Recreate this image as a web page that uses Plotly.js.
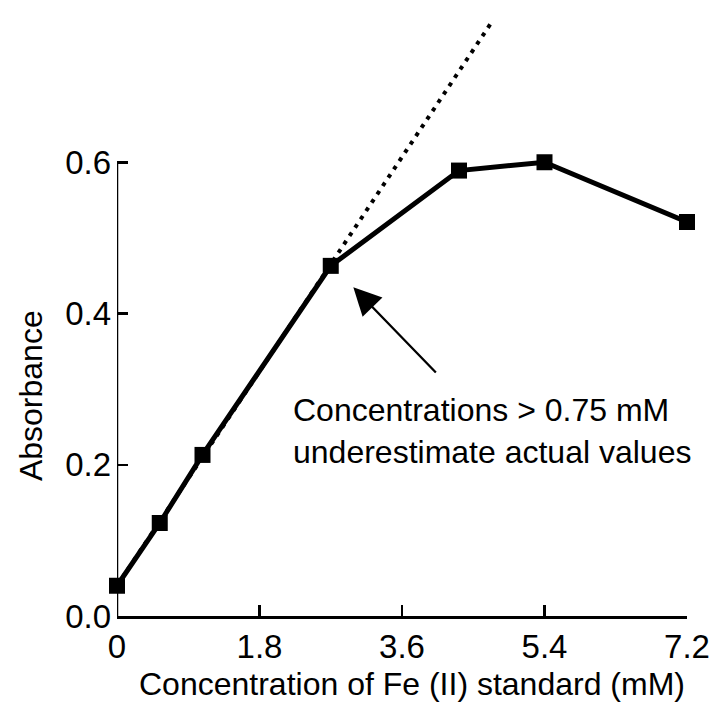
<!DOCTYPE html>
<html>
<head>
<meta charset="utf-8">
<script src="https://cdn.plot.ly/plotly-3.0.1.min.js"></script>
<style>html,body{margin:0;padding:0;background:#fff;}#chart{width:711px;height:702px;}</style>
</head>
<body>
<div id="chart"></div>
<script>
// Data
const concentration = [0, 0.54, 1.08, 2.7, 4.32, 5.4, 7.2];      // mM
const absorbance    = [0.04, 0.123, 0.213, 0.463, 0.589, 0.600, 0.521];
const linearX = [0, 4.75];       // extrapolated linear range (dotted)
const linearY = [0.04, 0.788];
const xTickVals = [0, 1.8, 3.6, 5.4, 7.2];
const xTickText = ['0', '1.8', '3.6', '5.4', '7.2'];
const yTickVals = [0, 0.2, 0.4, 0.6];
const yTickText = ['0.0', '0.2', '0.4', '0.6'];
const xTitle = 'Concentration of Fe (II) standard (mM)';
const yTitle = 'Absorbance';
const noteText = 'Concentrations &gt; 0.75 mM<br>underestimate actual values';

const FONT = 'Liberation Sans, Arial, Helvetica, sans-serif';

const traces = [
  {
    x: linearX, y: linearY, type: 'scatter', mode: 'lines',
    line: {color: '#000', width: 4, dash: '4px,6px'},
    hoverinfo: 'skip', showlegend: false
  },
  {
    x: concentration, y: absorbance, type: 'scatter', mode: 'lines+markers',
    line: {color: '#000', width: 5},
    marker: {symbol: 'square', size: 16, color: '#000'},
    cliponaxis: false, showlegend: false
  }
];

const layout = {
  width: 711, height: 702,
  margin: {l: 117, r: 24, t: 11, b: 86},
  paper_bgcolor: '#fff', plot_bgcolor: '#fff',
  font: {family: FONT, size: 32, color: '#000'},
  showlegend: false,
  xaxis: {
    range: [0, 7.2], tickvals: xTickVals, ticktext: xTickText,
    showgrid: false, zeroline: false, showline: true, linecolor: '#000', linewidth: 2.5,
    ticks: 'inside', ticklen: 11, tickwidth: 2.5, tickcolor: '#000',
    ticklabelstandoff: 0,
    tickfont: {family: FONT, size: 33, color: '#000'}, fixedrange: true
  },
  yaxis: {
    range: [0, 0.8], tickvals: yTickVals, ticktext: yTickText,
    showgrid: false, zeroline: false, showline: false,
    ticks: 'inside', ticklen: 11, tickwidth: 2.5, tickcolor: '#000',
    ticklabelstandoff: 5,
    tickfont: {family: FONT, size: 33, color: '#000'}, fixedrange: true
  },
  shapes: [
    {type: 'line', xref: 'x', yref: 'y', x0: 0, x1: 0, y0: 0, y1: 0.6,
     line: {color: '#000', width: 2.5}, layer: 'below'}
  ],
  annotations: [
    {text: xTitle, xref: 'paper', yref: 'paper', x: 0.5175, y: -0.112,
     xanchor: 'center', yanchor: 'middle', showarrow: false,
     font: {family: FONT, size: 32, color: '#000'}},
    {text: yTitle, xref: 'paper', yref: 'paper', x: -0.151, y: 0.365,
     xanchor: 'center', yanchor: 'middle', textangle: -90, showarrow: false,
     font: {family: FONT, size: 32, color: '#000'}},
    {text: noteText, xref: 'x', yref: 'y', x: 2.2, y: 0.2446,
     xanchor: 'left', yanchor: 'middle', align: 'left', showarrow: false,
     font: {family: FONT, size: 32, color: '#000'}},
    {text: '', xref: 'x', yref: 'y', x: 2.985, y: 0.4346,
     axref: 'x', ayref: 'y', ax: 4.046, ay: 0.320,
     showarrow: true, arrowhead: 2, arrowsize: 2.4, arrowwidth: 2.3,
     arrowcolor: '#000', standoff: 0, startstandoff: 0}
  ]
};

Plotly.newPlot('chart', traces, layout, {displayModeBar: false, staticPlot: true});
</script>
</body>
</html>
